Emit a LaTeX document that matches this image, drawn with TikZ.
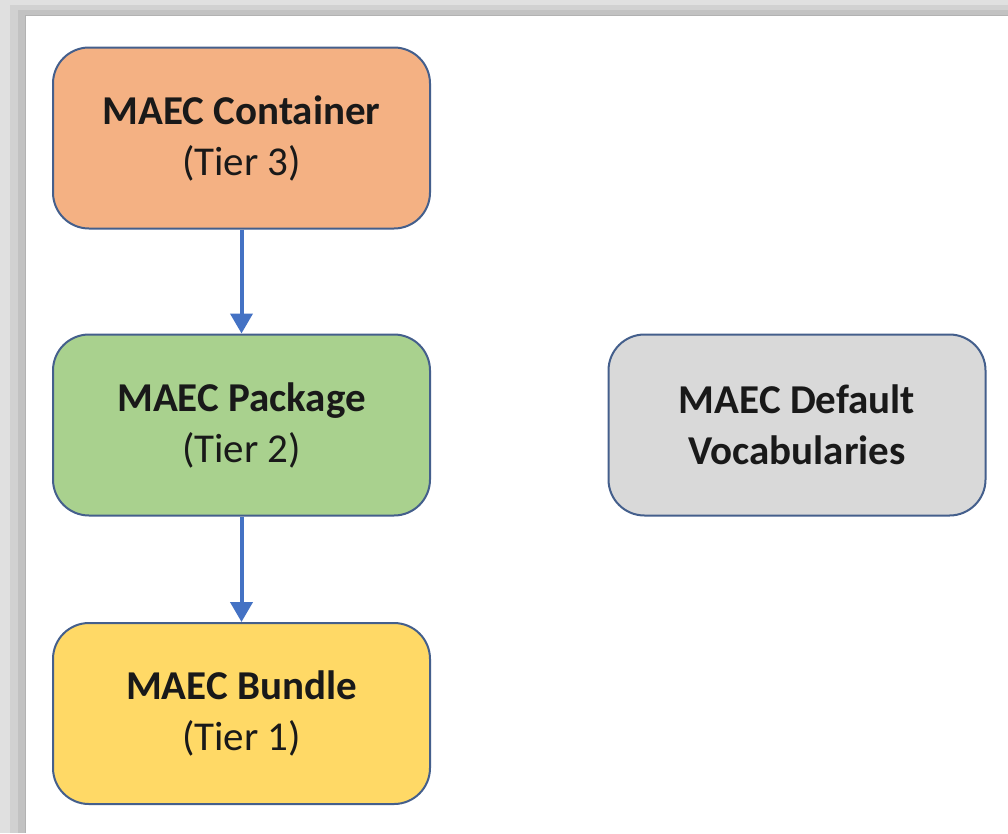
\documentclass[tikz,border=0pt]{standalone}
\usepackage{fontspec}
\setmainfont{Carlito}
\usetikzlibrary{arrows.meta}

\definecolor{tierthree}{RGB}{244,177,131}
\definecolor{tiertwo}{RGB}{169,209,142}
\definecolor{tierone}{RGB}{255,217,102}
\definecolor{vocabgray}{RGB}{217,217,217}
\definecolor{boxline}{RGB}{68,95,140}
\definecolor{arrowblue}{RGB}{68,114,196}

\begin{document}
\begin{tikzpicture}[x=1pt, y=-1pt,
    tierbox/.style={draw=boxline, line width=2pt, rounded corners=36pt,
        minimum width=377pt, minimum height=181pt, align=center,
        text=black!90, font=\fontsize{41}{51}\selectfont},
    tierlink/.style={draw=arrowblue, line width=4pt,
        -{Triangle[width=22pt,length=20pt]}}]
        \useasboundingbox (0,0) rectangle (1008,833);

        % Frame with shadow
        \fill[black!12] (0,0) rectangle (1008,833);
        \fill[black!18] (10,5) rectangle (1008,833);
        \fill[black!24] (18,10) rectangle (1008,833);
        \fill[white] (25,15) rectangle (1008,833);
        \draw[black!30, line width=1pt] (25,833) -- (25,15) -- (1008,15);

        % Tiers
        \node[tierbox, fill=tierthree] (container) at (241.5,138) {\textbf{MAEC Container}\\(Tier 3)};
        \node[tierbox, fill=tiertwo] (package) at (241.5,425) {\textbf{MAEC Package}\\(Tier 2)};
        \node[tierbox, fill=tierone] (bundle) at (241.5,713.5) {\textbf{MAEC Bundle}\\(Tier 1)};

        % Vocabularies
        \node[tierbox, fill=vocabgray] (vocab) at (797,425) {\textbf{MAEC Default}\\\textbf{Vocabularies}};

        % Links
        \draw[tierlink] (container) -- (package);
        \draw[tierlink] (package) -- (bundle);
    \end{tikzpicture}
\end{document}
